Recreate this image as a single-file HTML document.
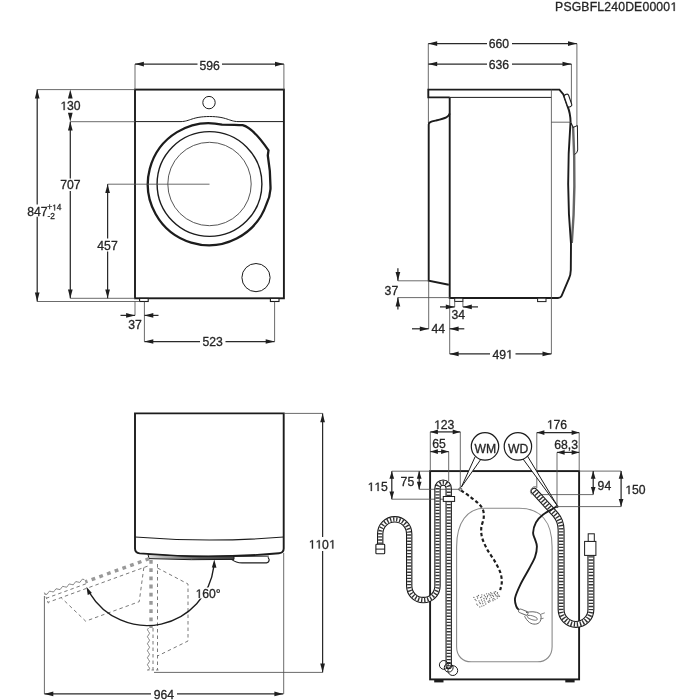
<!DOCTYPE html>
<html><head><meta charset="utf-8"><style>
html,body{margin:0;padding:0;background:#fff;}
body{width:700px;height:700px;overflow:hidden;}
svg{display:block;font-family:"Liberation Sans",sans-serif;}
svg{will-change:transform;}
</style></head><body>
<svg width="700" height="700" viewBox="0 0 700 700">
<rect width="700" height="700" fill="#fff"/>
<text x="555.10" y="10.90" font-size="12.2" text-anchor="start" fill="#262626" stroke="#262626" stroke-width="0.3" letter-spacing="0.18">PSGBFL240DE0000&#8199;</text>
<rect x="135" y="89.6" width="148.9" height="208.7" fill="none" stroke="#1c1c1c" stroke-width="1.9"/>
<path d="M135,121.6 L181,121.6 C190,121.4 192,116.6 209.5,116.5 C227,116.6 229,121.4 238,121.6 L283.9,121.6" fill="none" stroke="#1c1c1c" stroke-width="1.0"/>
<circle cx="209" cy="102.6" r="6.2" fill="none" stroke="#1c1c1c" stroke-width="1.0"/>
<path d="M242.6,125.2 C250,127 258,135 268.5,150.4 L267.8,155.5 C269.5,165 270.6,178 270.5,189 C270,196 268.5,200 266.5,204 A61,61 0 1,1 222,124.6 C230,124.7 237,124.8 242.6,125.2 Z" fill="none" stroke="#1c1c1c" stroke-width="2.3"/>
<circle cx="209.5" cy="184" r="52.4" fill="none" stroke="#1c1c1c" stroke-width="1.4"/>
<circle cx="209.5" cy="184" r="41.7" fill="none" stroke="#444" stroke-width="0.9"/>
<circle cx="256" cy="277.6" r="14.1" fill="none" stroke="#1c1c1c" stroke-width="1.0"/>
<rect x="139.6" y="298.4" width="8.6" height="3.1" fill="#fff" stroke="#1c1c1c" stroke-width="1.1"/>
<rect x="270.4" y="298.4" width="8.6" height="3.1" fill="#fff" stroke="#1c1c1c" stroke-width="1.1"/>
<line x1="135.00" y1="64.10" x2="135.00" y2="89.60" stroke="#505050" stroke-width="0.85" />
<line x1="283.90" y1="64.10" x2="283.90" y2="89.60" stroke="#505050" stroke-width="0.85" />
<line x1="135.00" y1="64.10" x2="197.50" y2="64.10" stroke="#2a2a2a" stroke-width="1.25" />
<line x1="222.00" y1="64.10" x2="283.90" y2="64.10" stroke="#2a2a2a" stroke-width="1.25" />
<path d="M135.00,64.10L143.90,61.75L143.90,66.45Z" fill="#1e1e1e"/>
<path d="M283.90,64.10L275.00,66.45L275.00,61.75Z" fill="#1e1e1e"/>
<text x="209.60" y="69.52" font-size="12.2" text-anchor="middle" fill="#262626" stroke="#262626" stroke-width="0.3">596</text>
<line x1="37.20" y1="89.60" x2="135.00" y2="89.60" stroke="#505050" stroke-width="0.85" />
<line x1="37.20" y1="301.50" x2="140.00" y2="301.50" stroke="#505050" stroke-width="0.85" />
<line x1="70.30" y1="298.30" x2="135.00" y2="298.30" stroke="#505050" stroke-width="0.85" />
<line x1="70.30" y1="121.70" x2="135.00" y2="121.70" stroke="#505050" stroke-width="0.85" />
<line x1="107.60" y1="184.20" x2="209.50" y2="184.20" stroke="#505050" stroke-width="0.85" />
<line x1="37.20" y1="89.60" x2="37.20" y2="204.60" stroke="#2a2a2a" stroke-width="1.25" />
<line x1="37.20" y1="216.80" x2="37.20" y2="301.50" stroke="#2a2a2a" stroke-width="1.25" />
<path d="M37.20,89.60L39.55,98.50L34.85,98.50Z" fill="#1e1e1e"/>
<path d="M37.20,301.50L34.85,292.60L39.55,292.60Z" fill="#1e1e1e"/>
<text x="37.30" y="216.22" font-size="12.2" text-anchor="middle" fill="#262626" stroke="#262626" stroke-width="0.3">847</text>
<text x="47.20" y="210.42" font-size="8.3" text-anchor="start" fill="#262626" stroke="#262626" stroke-width="0.3">+&#8199;4</text>
<text x="47.60" y="218.62" font-size="8.3" text-anchor="start" fill="#262626" stroke="#262626" stroke-width="0.3">-2</text>
<path d="M70.30,89.60L72.65,98.50L67.95,98.50Z" fill="#1e1e1e"/>
<path d="M70.30,121.70L67.95,112.80L72.65,112.80Z" fill="#1e1e1e"/>
<text x="70.40" y="110.12" font-size="12.2" text-anchor="middle" fill="#262626" stroke="#262626" stroke-width="0.3">&#8199;30</text>
<line x1="70.30" y1="121.70" x2="70.30" y2="178.50" stroke="#2a2a2a" stroke-width="1.25" />
<line x1="70.30" y1="191.00" x2="70.30" y2="298.30" stroke="#2a2a2a" stroke-width="1.25" />
<path d="M70.30,121.70L72.65,130.60L67.95,130.60Z" fill="#1e1e1e"/>
<path d="M70.30,298.30L67.95,289.40L72.65,289.40Z" fill="#1e1e1e"/>
<text x="70.30" y="189.32" font-size="12.2" text-anchor="middle" fill="#262626" stroke="#262626" stroke-width="0.3">707</text>
<line x1="107.60" y1="184.20" x2="107.60" y2="238.50" stroke="#2a2a2a" stroke-width="1.25" />
<line x1="107.60" y1="251.50" x2="107.60" y2="298.30" stroke="#2a2a2a" stroke-width="1.25" />
<path d="M107.60,184.20L109.95,193.10L105.25,193.10Z" fill="#1e1e1e"/>
<path d="M107.60,298.30L105.25,289.40L109.95,289.40Z" fill="#1e1e1e"/>
<text x="107.50" y="249.62" font-size="12.2" text-anchor="middle" fill="#262626" stroke="#262626" stroke-width="0.3">457</text>
<line x1="135.00" y1="301.50" x2="135.00" y2="315.40" stroke="#505050" stroke-width="0.85" />
<line x1="144.40" y1="301.60" x2="144.40" y2="341.50" stroke="#505050" stroke-width="0.85" />
<line x1="120.50" y1="315.40" x2="135.00" y2="315.40" stroke="#2a2a2a" stroke-width="1.25" />
<path d="M135.00,315.40L126.10,317.75L126.10,313.05Z" fill="#1e1e1e"/>
<line x1="144.40" y1="315.40" x2="158.50" y2="315.40" stroke="#2a2a2a" stroke-width="1.25" />
<path d="M144.40,315.40L153.30,313.05L153.30,317.75Z" fill="#1e1e1e"/>
<text x="135.00" y="329.22" font-size="12.2" text-anchor="middle" fill="#262626" stroke="#262626" stroke-width="0.3">37</text>
<line x1="274.60" y1="301.60" x2="274.60" y2="341.50" stroke="#505050" stroke-width="0.85" />
<line x1="144.40" y1="341.50" x2="200.00" y2="341.50" stroke="#2a2a2a" stroke-width="1.25" />
<line x1="225.50" y1="341.50" x2="274.60" y2="341.50" stroke="#2a2a2a" stroke-width="1.25" />
<path d="M144.40,341.50L153.30,339.15L153.30,343.85Z" fill="#1e1e1e"/>
<path d="M274.60,341.50L265.70,343.85L265.70,339.15Z" fill="#1e1e1e"/>
<text x="212.70" y="346.12" font-size="12.2" text-anchor="middle" fill="#262626" stroke="#262626" stroke-width="0.3">523</text>
<line x1="428.30" y1="43.60" x2="428.30" y2="89.60" stroke="#505050" stroke-width="0.85" />
<line x1="428.40" y1="97.40" x2="428.40" y2="123.00" stroke="#505050" stroke-width="0.85" />
<line x1="576.90" y1="43.60" x2="576.90" y2="126.00" stroke="#505050" stroke-width="0.85" />
<line x1="571.40" y1="64.00" x2="571.40" y2="104.00" stroke="#505050" stroke-width="0.85" />
<line x1="428.30" y1="43.60" x2="487.00" y2="43.60" stroke="#2a2a2a" stroke-width="1.25" />
<line x1="512.00" y1="43.60" x2="576.90" y2="43.60" stroke="#2a2a2a" stroke-width="1.25" />
<path d="M428.30,43.60L437.20,41.25L437.20,45.95Z" fill="#1e1e1e"/>
<path d="M576.90,43.60L568.00,45.95L568.00,41.25Z" fill="#1e1e1e"/>
<text x="498.90" y="48.22" font-size="12.2" text-anchor="middle" fill="#262626" stroke="#262626" stroke-width="0.3">660</text>
<line x1="428.30" y1="64.00" x2="487.00" y2="64.00" stroke="#2a2a2a" stroke-width="1.25" />
<line x1="512.00" y1="64.00" x2="571.40" y2="64.00" stroke="#2a2a2a" stroke-width="1.25" />
<path d="M428.30,64.00L437.20,61.65L437.20,66.35Z" fill="#1e1e1e"/>
<path d="M571.40,64.00L562.50,66.35L562.50,61.65Z" fill="#1e1e1e"/>
<text x="498.90" y="68.62" font-size="12.2" text-anchor="middle" fill="#262626" stroke="#262626" stroke-width="0.3">636</text>
<path d="M449.7,97.4 L428.3,97.4 L428.3,89.6 L559.4,89.6 L563.4,94.5 L567.6,106.5 Q570.4,113 570.6,122.3" fill="none" stroke="#1c1c1c" stroke-width="1.9" stroke-linejoin="miter"/>
<line x1="449.70" y1="97.40" x2="551.40" y2="97.40" stroke="#1c1c1c" stroke-width="1.0" />
<rect x="565.7" y="94.1" width="4.6" height="13" rx="1.8" fill="#fff" stroke="#1c1c1c" stroke-width="1.1" transform="rotate(-19 568 100.6)"/>
<path d="M449.7,113.5 C449,117 446,118 436,120.5 C431,121.6 428.7,122 428.7,124.5 L428.7,280.8 L448.8,284.7" fill="none" stroke="#1c1c1c" stroke-width="1.9"/>
<path d="M449.7,97.4 L449.7,298 L558,298 Q560.6,298 561.6,295.8 L568.6,279.5 Q570.8,275 570.8,270 L571,244" fill="none" stroke="#1c1c1c" stroke-width="1.9"/>
<line x1="551.40" y1="89.60" x2="551.40" y2="353.90" stroke="#555" stroke-width="0.85" />
<line x1="551.40" y1="122.20" x2="570.60" y2="122.20" stroke="#444" stroke-width="0.8" />
<path d="M573.1,127 Q576.3,188 571.8,243" fill="none" stroke="#666" stroke-width="2.4"/>
<path d="M570.5,122.4 Q565.6,185 571,244" fill="none" stroke="#1c1c1c" stroke-width="1.9"/>
<path d="M570.8,122.5 L573.2,127.5" fill="none" stroke="#1c1c1c" stroke-width="1.2"/>
<path d="M573,127.4 L577.4,125.6 L577.7,150 Q577.4,153.2 574.5,154.5" fill="none" stroke="#1c1c1c" stroke-width="1.0"/>
<rect x="454.7" y="298.2" width="8.2" height="3.2" fill="#fff" stroke="#1c1c1c" stroke-width="1.0"/>
<rect x="537.6" y="298.2" width="8.4" height="3.4" fill="#fff" stroke="#1c1c1c" stroke-width="1.0"/>
<line x1="397.90" y1="280.80" x2="428.70" y2="280.80" stroke="#505050" stroke-width="0.85" />
<line x1="397.90" y1="297.60" x2="449.70" y2="297.60" stroke="#505050" stroke-width="0.85" />
<line x1="397.90" y1="268.30" x2="397.90" y2="280.80" stroke="#2a2a2a" stroke-width="1.25" />
<path d="M397.90,280.80L395.55,271.90L400.25,271.90Z" fill="#1e1e1e"/>
<line x1="397.90" y1="309.50" x2="397.90" y2="297.60" stroke="#2a2a2a" stroke-width="1.25" />
<path d="M397.90,297.60L400.25,306.50L395.55,306.50Z" fill="#1e1e1e"/>
<text x="391.40" y="295.22" font-size="12.2" text-anchor="middle" fill="#262626" stroke="#262626" stroke-width="0.3">37</text>
<line x1="428.70" y1="281.00" x2="428.70" y2="328.80" stroke="#505050" stroke-width="0.85" />
<line x1="449.70" y1="298.00" x2="449.70" y2="353.90" stroke="#505050" stroke-width="0.85" />
<line x1="412.00" y1="328.80" x2="428.70" y2="328.80" stroke="#2a2a2a" stroke-width="1.25" />
<path d="M428.70,328.80L419.80,331.15L419.80,326.45Z" fill="#1e1e1e"/>
<line x1="464.30" y1="328.80" x2="449.70" y2="328.80" stroke="#2a2a2a" stroke-width="1.25" />
<path d="M449.70,328.80L458.60,326.45L458.60,331.15Z" fill="#1e1e1e"/>
<text x="438.30" y="333.22" font-size="12.2" text-anchor="middle" fill="#262626" stroke="#262626" stroke-width="0.3">44</text>
<line x1="454.70" y1="301.50" x2="454.70" y2="306.90" stroke="#505050" stroke-width="0.85" />
<line x1="462.90" y1="301.50" x2="462.90" y2="306.90" stroke="#505050" stroke-width="0.85" />
<line x1="440.00" y1="306.90" x2="454.70" y2="306.90" stroke="#2a2a2a" stroke-width="1.25" />
<path d="M454.70,306.90L445.80,309.25L445.80,304.55Z" fill="#1e1e1e"/>
<line x1="478.00" y1="306.90" x2="462.90" y2="306.90" stroke="#2a2a2a" stroke-width="1.25" />
<path d="M462.90,306.90L471.80,304.55L471.80,309.25Z" fill="#1e1e1e"/>
<text x="458.30" y="319.12" font-size="12.2" text-anchor="middle" fill="#262626" stroke="#262626" stroke-width="0.3">34</text>
<line x1="449.70" y1="353.90" x2="490.00" y2="353.90" stroke="#2a2a2a" stroke-width="1.25" />
<line x1="515.50" y1="353.90" x2="551.40" y2="353.90" stroke="#2a2a2a" stroke-width="1.25" />
<path d="M449.70,353.90L458.60,351.55L458.60,356.25Z" fill="#1e1e1e"/>
<path d="M551.40,353.90L542.50,356.25L542.50,351.55Z" fill="#1e1e1e"/>
<text x="502.60" y="358.52" font-size="12.2" text-anchor="middle" fill="#262626" stroke="#262626" stroke-width="0.3">49&#8199;</text>
<path d="M135,413.4 L283.7,413.4 L283.7,548.5 Q283.7,552.8 279,553.2 Q209.4,559.6 139.7,553.4 Q135,552.8 135,548.5 Z" fill="none" stroke="#1c1c1c" stroke-width="1.9"/>
<path d="M135,537 A920,920 0 0,0 283.7,537" fill="none" stroke="#1c1c1c" stroke-width="1.1"/>
<defs><linearGradient id="dg" x1="148" y1="0" x2="234" y2="0" gradientUnits="userSpaceOnUse"><stop offset="0" stop-color="#e0e0e0"/><stop offset="0.3" stop-color="#9a9a9a"/><stop offset="0.6" stop-color="#555"/><stop offset="1" stop-color="#444"/></linearGradient></defs>
<path d="M148,554.4 Q191,557.9 234,556.1 L234,559.4 Q191,560.4 149,558.6 Z" fill="url(#dg)" stroke="#1c1c1c" stroke-width="1.0"/>
<path d="M231.5,559.4 Q236,562.9 242,562.9 L266.5,562.9 Q269.2,562.6 269.2,559.6 L268,557.2" fill="none" stroke="#1c1c1c" stroke-width="1.1"/>
<path d="M233,556.4 L268.8,556.2" fill="none" stroke="#1c1c1c" stroke-width="0.9"/>
<path d="M151.00,560.00 L151.00,628.00" stroke="#999" stroke-width="3.4" stroke-dasharray="3.8 4.4" fill="none"/>
<path d="M157.50,564.00 L157.50,670.00" stroke="#7a7a7a" stroke-width="1.0" stroke-dasharray="3.5 3" fill="none"/>
<path d="M153.00,628.00 L153.00,670.00" stroke="#7a7a7a" stroke-width="1.0" stroke-dasharray="3.5 3" fill="none"/>
<path d="M157.50,568.00 L188.00,584.00 L188.00,641.00 L157.50,656.00" stroke="#7a7a7a" stroke-width="1.0" stroke-dasharray="3.5 3" fill="none"/>
<path d="M148.50,628.00 Q146.30,629.75 148.50,631.50 Q150.70,633.25 148.50,635.00 Q146.30,636.75 148.50,638.50 Q150.70,640.25 148.50,642.00 Q146.30,643.75 148.50,645.50 Q150.70,647.25 148.50,649.00 Q146.30,650.75 148.50,652.50 Q150.70,654.25 148.50,656.00 Q146.30,657.75 148.50,659.50 Q150.70,661.25 148.50,663.00 Q146.30,664.75 148.50,666.50 Q150.70,668.25 148.50,670.00" stroke="#777" stroke-width="0.9" fill="none"/>
<path d="M147.00,670.00 L159.00,670.00" stroke="#777" stroke-width="0.9" stroke-dasharray="2.5 2" fill="none"/>
<path d="M149.12,558.68 L85.22,581.94" stroke="#999" stroke-width="3.4" stroke-dasharray="3.8 4.4" fill="none"/>
<path d="M147.58,566.16 L47.98,602.41" stroke="#7a7a7a" stroke-width="1.0" stroke-dasharray="3.5 3" fill="none"/>
<path d="M85.91,583.82 L46.44,598.19" stroke="#7a7a7a" stroke-width="1.0" stroke-dasharray="3.5 3" fill="none"/>
<path d="M143.83,567.53 L139.22,601.66 L85.66,621.16 L61.13,597.63" stroke="#7a7a7a" stroke-width="1.0" stroke-dasharray="3.5 3" fill="none"/>
<path d="M84.37,579.59 Q81.97,578.12 81.08,580.79 Q80.19,583.46 77.79,581.99 Q75.39,580.52 74.50,583.18 Q73.61,585.85 71.21,584.38 Q68.81,582.91 67.92,585.58 Q67.03,588.24 64.63,586.77 Q62.24,585.31 61.34,587.97 Q60.45,590.64 58.06,589.17 Q55.66,587.70 54.77,590.37 Q53.87,593.03 51.48,591.56 Q49.08,590.09 48.19,592.76 Q47.30,595.43 44.90,593.96" stroke="#777" stroke-width="0.9" fill="none"/>
<path d="M44.39,592.55 L48.49,603.82" stroke="#777" stroke-width="0.9" stroke-dasharray="2.5 2" fill="none"/>
<path d="M213.80,566.61 A67.1,67.1 0 0,1 89.73,593.04" fill="none" stroke="#1c1c1c" stroke-width="1.35"/>
<path d="M214.29,559.60L216.45,567.64L211.85,567.56Z" fill="#1c1c1c"/>
<path d="M86.43,586.84L91.90,593.11L87.73,595.06Z" fill="#1c1c1c"/>
<rect x="195" y="587.5" width="27" height="11" fill="#fff"/>
<text x="208.00" y="597.92" font-size="12.2" text-anchor="middle" fill="#262626" stroke="#262626" stroke-width="0.3">&#8199;60°</text>
<line x1="283.70" y1="413.40" x2="322.60" y2="413.40" stroke="#505050" stroke-width="0.85" />
<line x1="154.00" y1="672.40" x2="322.60" y2="672.40" stroke="#505050" stroke-width="0.85" />
<line x1="322.60" y1="413.40" x2="322.60" y2="537.00" stroke="#2a2a2a" stroke-width="1.25" />
<line x1="322.60" y1="551.00" x2="322.60" y2="672.40" stroke="#2a2a2a" stroke-width="1.25" />
<path d="M322.60,413.40L324.95,422.30L320.25,422.30Z" fill="#1e1e1e"/>
<path d="M322.60,672.40L320.25,663.50L324.95,663.50Z" fill="#1e1e1e"/>
<text x="322.10" y="548.52" font-size="12.2" text-anchor="middle" fill="#262626" stroke="#262626" stroke-width="0.3">&#8199;&#8199;0&#8199;</text>
<line x1="44.40" y1="596.00" x2="44.40" y2="693.90" stroke="#505050" stroke-width="0.85" />
<line x1="283.70" y1="553.00" x2="283.70" y2="693.90" stroke="#505050" stroke-width="0.85" />
<line x1="44.40" y1="693.90" x2="151.00" y2="693.90" stroke="#2a2a2a" stroke-width="1.25" />
<line x1="177.00" y1="693.90" x2="283.30" y2="693.90" stroke="#2a2a2a" stroke-width="1.25" />
<path d="M44.40,693.90L53.30,691.55L53.30,696.25Z" fill="#1e1e1e"/>
<path d="M283.30,693.90L274.40,696.25L274.40,691.55Z" fill="#1e1e1e"/>
<text x="163.90" y="698.52" font-size="12.2" text-anchor="middle" fill="#262626" stroke="#262626" stroke-width="0.3">964</text>
<rect x="430.1" y="471.1" width="149" height="208.3" fill="none" stroke="#1c1c1c" stroke-width="1.9"/>
<rect x="434.2" y="679.6" width="9.3" height="2.8" fill="#1c1c1c"/>
<rect x="565.3" y="679.6" width="9.3" height="2.8" fill="#1c1c1c"/>
<path d="M484.6,508.3 L519.1,508.3 C541,508.3 552.1,522 552.1,547 L552.1,646.8 C552.1,656 546,661.8 537.5,661.8 L471.2,661.8 C462.5,661.8 456.6,656 456.6,646.8 L456.6,547 C456.6,522 467.5,508.3 484.6,508.3 Z" fill="none" stroke="#8a8a8a" stroke-width="1.1"/>
<line x1="430.30" y1="431.90" x2="430.30" y2="471.00" stroke="#505050" stroke-width="0.85" />
<line x1="460.30" y1="431.90" x2="460.30" y2="489.30" stroke="#505050" stroke-width="0.85" />
<line x1="430.30" y1="431.90" x2="460.30" y2="431.90" stroke="#2a2a2a" stroke-width="1.25" />
<path d="M430.30,431.90L437.90,429.55L437.90,434.25Z" fill="#1e1e1e"/>
<path d="M460.30,431.90L452.70,434.25L452.70,429.55Z" fill="#1e1e1e"/>
<text x="444.10" y="428.92" font-size="12.2" text-anchor="middle" fill="#262626" stroke="#262626" stroke-width="0.3">&#8199;23</text>
<line x1="448.70" y1="451.60" x2="448.70" y2="481.00" stroke="#505050" stroke-width="0.85" />
<line x1="430.30" y1="451.60" x2="448.70" y2="451.60" stroke="#2a2a2a" stroke-width="1.25" />
<path d="M430.30,451.60L437.90,449.25L437.90,453.95Z" fill="#1e1e1e"/>
<path d="M448.70,451.60L441.10,453.95L441.10,449.25Z" fill="#1e1e1e"/>
<text x="439.10" y="448.12" font-size="12.2" text-anchor="middle" fill="#262626" stroke="#262626" stroke-width="0.3">65</text>
<line x1="391.80" y1="471.20" x2="430.10" y2="471.20" stroke="#505050" stroke-width="0.85" />
<line x1="419.20" y1="489.30" x2="460.30" y2="489.30" stroke="#505050" stroke-width="0.85" />
<line x1="391.80" y1="499.20" x2="444.00" y2="499.20" stroke="#505050" stroke-width="0.85" />
<line x1="419.20" y1="471.20" x2="419.20" y2="489.30" stroke="#2a2a2a" stroke-width="1.25" />
<path d="M419.20,471.20L421.55,478.80L416.85,478.80Z" fill="#1e1e1e"/>
<path d="M419.20,489.30L416.85,481.70L421.55,481.70Z" fill="#1e1e1e"/>
<text x="407.40" y="486.22" font-size="12.2" text-anchor="middle" fill="#262626" stroke="#262626" stroke-width="0.3">75</text>
<line x1="391.80" y1="471.20" x2="391.80" y2="499.20" stroke="#2a2a2a" stroke-width="1.25" />
<path d="M391.80,471.20L394.15,478.80L389.45,478.80Z" fill="#1e1e1e"/>
<path d="M391.80,499.20L389.45,491.60L394.15,491.60Z" fill="#1e1e1e"/>
<text x="377.60" y="491.02" font-size="12.2" text-anchor="middle" fill="#262626" stroke="#262626" stroke-width="0.3">&#8199;&#8199;5</text>
<line x1="536.80" y1="432.60" x2="536.80" y2="488.00" stroke="#505050" stroke-width="0.85" />
<line x1="579.20" y1="432.60" x2="579.20" y2="471.00" stroke="#505050" stroke-width="0.85" />
<line x1="536.80" y1="432.60" x2="579.20" y2="432.60" stroke="#2a2a2a" stroke-width="1.25" />
<path d="M536.80,432.60L544.40,430.25L544.40,434.95Z" fill="#1e1e1e"/>
<path d="M579.20,432.60L571.60,434.95L571.60,430.25Z" fill="#1e1e1e"/>
<text x="556.90" y="428.72" font-size="12.2" text-anchor="middle" fill="#262626" stroke="#262626" stroke-width="0.3">&#8199;76</text>
<line x1="557.00" y1="452.40" x2="557.00" y2="506.40" stroke="#505050" stroke-width="0.85" />
<line x1="557.00" y1="452.40" x2="579.20" y2="452.40" stroke="#2a2a2a" stroke-width="1.25" />
<path d="M557.00,452.40L564.60,450.05L564.60,454.75Z" fill="#1e1e1e"/>
<path d="M579.20,452.40L571.60,454.75L571.60,450.05Z" fill="#1e1e1e"/>
<text x="566.10" y="449.22" font-size="12.2" text-anchor="middle" fill="#262626" stroke="#262626" stroke-width="0.3">68,3</text>
<line x1="579.20" y1="471.10" x2="621.10" y2="471.10" stroke="#505050" stroke-width="0.85" />
<line x1="541.00" y1="494.60" x2="593.20" y2="494.60" stroke="#505050" stroke-width="0.85" />
<line x1="557.00" y1="506.60" x2="621.10" y2="506.60" stroke="#505050" stroke-width="0.85" />
<line x1="593.20" y1="471.10" x2="593.20" y2="494.60" stroke="#2a2a2a" stroke-width="1.25" />
<path d="M593.20,471.10L595.55,478.70L590.85,478.70Z" fill="#1e1e1e"/>
<path d="M593.20,494.60L590.85,487.00L595.55,487.00Z" fill="#1e1e1e"/>
<text x="604.40" y="490.22" font-size="12.2" text-anchor="middle" fill="#262626" stroke="#262626" stroke-width="0.3">94</text>
<line x1="621.10" y1="471.10" x2="621.10" y2="506.60" stroke="#2a2a2a" stroke-width="1.25" />
<path d="M621.10,471.10L623.45,478.70L618.75,478.70Z" fill="#1e1e1e"/>
<path d="M621.10,506.60L618.75,499.00L623.45,499.00Z" fill="#1e1e1e"/>
<text x="635.30" y="494.12" font-size="12.2" text-anchor="middle" fill="#262626" stroke="#262626" stroke-width="0.3">&#8199;50</text>
<path d="M380.2,543.8 L380.2,533.8 A14.5,14.5 0 0,1 409.2,533.8 L409.2,585.9 A14.15,14.15 0 0,0 437.5,585.9 L437.5,488.2 A5.6,5.6 0 0,1 448.7,488.2 L448.7,666" fill="none" stroke="#1c1c1c" stroke-width="6.4" stroke-linecap="round"/>
<path d="M380.2,543.8 L380.2,533.8 A14.5,14.5 0 0,1 409.2,533.8 L409.2,585.9 A14.15,14.15 0 0,0 437.5,585.9 L437.5,488.2 A5.6,5.6 0 0,1 448.7,488.2 L448.7,666" fill="none" stroke="#fff" stroke-width="4.2" stroke-linecap="round"/>
<path d="M380.2,543.8 L380.2,533.8 A14.5,14.5 0 0,1 409.2,533.8 L409.2,585.9 A14.15,14.15 0 0,0 437.5,585.9 L437.5,488.2 A5.6,5.6 0 0,1 448.7,488.2 L448.7,666" fill="none" stroke="#333" stroke-width="4.2" stroke-dasharray="1.35 1.75"/>
<rect x="443.3" y="496.5" width="11.3" height="4.9" fill="#fff" stroke="#1c1c1c" stroke-width="1.0"/>
<rect x="375.9" y="544.2" width="8.8" height="9.5" rx="0.8" fill="#fff" stroke="#1c1c1c" stroke-width="1.1"/>
<line x1="375.90" y1="549.10" x2="384.70" y2="549.10" stroke="#1c1c1c" stroke-width="1.0" />
<circle cx="443.8" cy="664.9" r="4.4" fill="none" stroke="#1c1c1c" stroke-width="1.0"/>
<circle cx="448.7" cy="667.7" r="4.4" fill="none" stroke="#1c1c1c" stroke-width="1.0"/>
<circle cx="452.8" cy="670.6" r="4.9" fill="none" stroke="#1c1c1c" stroke-width="1.0"/>
<path d="M534.2,491.2 L555.5,514.5 Q561.1,521 561.1,530 L561.1,609.5 A14.9,14.9 0 0,0 590.9,609.5 L590.9,555.4" fill="none" stroke="#1c1c1c" stroke-width="7.0" stroke-linecap="round"/>
<path d="M534.2,491.2 L555.5,514.5 Q561.1,521 561.1,530 L561.1,609.5 A14.9,14.9 0 0,0 590.9,609.5 L590.9,555.4" fill="none" stroke="#fff" stroke-width="4.8" stroke-linecap="round"/>
<path d="M534.2,491.2 L555.5,514.5 Q561.1,521 561.1,530 L561.1,609.5 A14.9,14.9 0 0,0 590.9,609.5 L590.9,555.4" fill="none" stroke="#333" stroke-width="4.8" stroke-dasharray="1.35 1.75"/>
<path d="M531.5,494.5 A5,5 0 0,1 536.5,486.6" fill="none" stroke="#777" stroke-width="0.9"/>
<rect x="584.6" y="541.4" width="11.3" height="14" fill="#fff" stroke="#1c1c1c" stroke-width="1.0"/>
<rect x="588.2" y="533.8" width="6.1" height="7.6" fill="#fff" stroke="#1c1c1c" stroke-width="1.0"/>
<path d="M461.00,490.40 C462.47,491.42 466.97,494.38 469.80,496.50 C472.63,498.62 475.82,500.92 478.00,503.10 C480.18,505.28 481.95,507.13 482.90,509.60 C483.85,512.07 483.97,514.88 483.70,517.90 C483.43,520.92 481.57,524.42 481.30,527.70 C481.03,530.98 481.15,534.03 482.10,537.60 C483.05,541.17 484.95,545.27 487.00,549.10 C489.05,552.93 492.20,556.77 494.40,560.60 C496.60,564.43 498.97,568.55 500.20,572.10 C501.43,575.65 501.80,578.90 501.80,581.90 C501.80,584.90 500.47,588.73 500.20,590.10" fill="none" stroke="#1c1c1c" stroke-width="2.15" stroke-dasharray="3.5 2.4"/>
<g fill="#6a6a6a"><circle cx="473.87" cy="597.40" r="0.65"/><circle cx="475.09" cy="599.47" r="0.65"/><circle cx="476.06" cy="600.59" r="0.65"/><circle cx="476.73" cy="604.09" r="0.65"/><circle cx="477.63" cy="605.10" r="0.65"/><circle cx="479.79" cy="606.97" r="0.65"/><circle cx="477.13" cy="596.47" r="0.65"/><circle cx="477.56" cy="598.00" r="0.65"/><circle cx="478.99" cy="600.88" r="0.65"/><circle cx="479.70" cy="602.67" r="0.65"/><circle cx="480.39" cy="603.56" r="0.65"/><circle cx="481.81" cy="606.11" r="0.65"/><circle cx="478.48" cy="595.48" r="0.65"/><circle cx="480.51" cy="597.62" r="0.65"/><circle cx="481.48" cy="599.98" r="0.65"/><circle cx="482.41" cy="601.81" r="0.65"/><circle cx="482.80" cy="603.65" r="0.65"/><circle cx="483.88" cy="605.58" r="0.65"/><circle cx="481.82" cy="594.80" r="0.65"/><circle cx="481.69" cy="596.90" r="0.65"/><circle cx="483.90" cy="598.45" r="0.65"/><circle cx="484.22" cy="600.13" r="0.65"/><circle cx="484.99" cy="601.97" r="0.65"/><circle cx="485.78" cy="604.00" r="0.65"/><circle cx="484.32" cy="595.23" r="0.65"/><circle cx="485.32" cy="596.76" r="0.65"/><circle cx="486.45" cy="598.28" r="0.65"/><circle cx="486.53" cy="599.01" r="0.65"/><circle cx="488.13" cy="601.32" r="0.65"/><circle cx="488.79" cy="602.38" r="0.65"/><circle cx="486.53" cy="593.82" r="0.65"/><circle cx="487.72" cy="595.57" r="0.65"/><circle cx="487.45" cy="596.73" r="0.65"/><circle cx="489.61" cy="598.82" r="0.65"/><circle cx="489.26" cy="600.55" r="0.65"/><circle cx="490.14" cy="601.10" r="0.65"/><circle cx="488.67" cy="593.92" r="0.65"/><circle cx="489.88" cy="594.32" r="0.65"/><circle cx="490.29" cy="595.75" r="0.65"/><circle cx="491.38" cy="597.28" r="0.65"/><circle cx="492.74" cy="599.09" r="0.65"/><circle cx="493.02" cy="600.68" r="0.65"/><circle cx="490.74" cy="592.68" r="0.65"/><circle cx="491.89" cy="593.74" r="0.65"/><circle cx="492.27" cy="595.47" r="0.65"/><circle cx="493.47" cy="596.24" r="0.65"/><circle cx="493.82" cy="598.44" r="0.65"/><circle cx="495.00" cy="599.56" r="0.65"/><circle cx="494.20" cy="592.13" r="0.65"/><circle cx="494.35" cy="593.50" r="0.65"/><circle cx="495.37" cy="594.56" r="0.65"/><circle cx="495.98" cy="595.71" r="0.65"/><circle cx="497.16" cy="596.46" r="0.65"/><circle cx="497.29" cy="598.05" r="0.65"/><circle cx="495.63" cy="591.72" r="0.65"/><circle cx="497.50" cy="592.54" r="0.65"/><circle cx="497.31" cy="593.35" r="0.65"/><circle cx="498.09" cy="594.79" r="0.65"/><circle cx="498.25" cy="596.06" r="0.65"/><circle cx="499.50" cy="596.24" r="0.65"/></g>
<path d="M557.40,506.10 C554.98,507.53 546.47,511.98 542.90,514.70 C539.33,517.42 537.63,519.40 536.00,522.40 C534.37,525.40 533.25,529.83 533.10,532.70 C532.95,535.57 534.47,537.32 535.10,539.60 C535.73,541.88 536.90,543.55 536.90,546.40 C536.90,549.25 536.40,552.98 535.10,556.70 C533.80,560.42 531.52,564.13 529.10,568.70 C526.68,573.27 522.93,579.23 520.60,584.10 C518.27,588.97 515.82,594.18 515.10,597.90 C514.38,601.62 515.67,604.40 516.30,606.40 C516.93,608.40 518.47,609.32 518.90,609.90" fill="none" stroke="#1c1c1c" stroke-width="1.9"/>
<rect x="518.3" y="610.2" width="10" height="3.8" rx="1.9" fill="#fff" stroke="#666" stroke-width="0.9" transform="rotate(22 523.3 612.1)"/>
<path d="M526,612.6 C530,611.3 536,611.4 539.5,613.5 C541.6,615 541.6,619 540,621.6 C538.3,624.6 533,625 529.5,622.5 C527,620.6 525.6,618.2 524.6,616.2" fill="none" stroke="#666" stroke-width="1.0"/>
<ellipse cx="532.4" cy="617.8" rx="5.2" ry="1.9" transform="rotate(16 532.4 617.8)" fill="none" stroke="#777" stroke-width="0.9"/>
<path d="M540.4,614.4 L544.8,612.8 M540.4,618.9 L543.6,618.2" fill="none" stroke="#777" stroke-width="0.9"/>
<path d="M475.0,457.0 L461.4,487.0 L480.8,459.4" fill="#fff" stroke="#1c1c1c" stroke-width="1.0" stroke-linejoin="miter"/>
<circle cx="485.0" cy="446.4" r="13.7" fill="#fff" stroke="#1c1c1c" stroke-width="1.2"/>
<text x="485.30" y="452.52" font-size="12.2" text-anchor="middle" fill="#262626" stroke="#262626" stroke-width="0.3">WM</text>
<path d="M522.9,458.8 L557.4,505.8 L527.3,455.8" fill="#fff" stroke="#1c1c1c" stroke-width="1.0" stroke-linejoin="miter"/>
<circle cx="517.9" cy="446.4" r="13.7" fill="#fff" stroke="#1c1c1c" stroke-width="1.2"/>
<text x="518.20" y="452.52" font-size="12.2" text-anchor="middle" fill="#262626" stroke="#262626" stroke-width="0.3">WD</text>
<circle cx="460.3" cy="489.3" r="1.6" fill="none" stroke="#444" stroke-width="0.8"/>
<circle cx="557" cy="506.4" r="1.5" fill="#444"/>
<path d="M565,0L746,0L746,1409L580,1409L247,1180L247,1010L565,1237Z" transform="translate(670.26,10.90) scale(0.005957,-0.005957)" fill="#262626" stroke="#262626" stroke-width="50.4"/>
<path d="M565,0L746,0L746,1409L580,1409L247,1180L247,1010L565,1237Z" transform="translate(52.04,210.42) scale(0.004053,-0.004053)" fill="#262626" stroke="#262626" stroke-width="74.0"/>
<path d="M565,0L746,0L746,1409L580,1409L247,1180L247,1010L565,1237Z" transform="translate(60.23,110.12) scale(0.005957,-0.005957)" fill="#262626" stroke="#262626" stroke-width="50.4"/>
<path d="M565,0L746,0L746,1409L580,1409L247,1180L247,1010L565,1237Z" transform="translate(505.98,358.52) scale(0.005957,-0.005957)" fill="#262626" stroke="#262626" stroke-width="50.4"/>
<path d="M565,0L746,0L746,1409L580,1409L247,1180L247,1010L565,1237Z" transform="translate(195.39,597.92) scale(0.005957,-0.005957)" fill="#262626" stroke="#262626" stroke-width="50.4"/>
<path d="M565,0L746,0L746,1409L580,1409L247,1180L247,1010L565,1237Z" transform="translate(308.54,548.52) scale(0.005957,-0.005957)" fill="#262626" stroke="#262626" stroke-width="50.4"/>
<path d="M565,0L746,0L746,1409L580,1409L247,1180L247,1010L565,1237Z" transform="translate(315.30,548.52) scale(0.005957,-0.005957)" fill="#262626" stroke="#262626" stroke-width="50.4"/>
<path d="M565,0L746,0L746,1409L580,1409L247,1180L247,1010L565,1237Z" transform="translate(328.87,548.52) scale(0.005957,-0.005957)" fill="#262626" stroke="#262626" stroke-width="50.4"/>
<path d="M565,0L746,0L746,1409L580,1409L247,1180L247,1010L565,1237Z" transform="translate(433.93,428.92) scale(0.005957,-0.005957)" fill="#262626" stroke="#262626" stroke-width="50.4"/>
<path d="M565,0L746,0L746,1409L580,1409L247,1180L247,1010L565,1237Z" transform="translate(367.43,491.02) scale(0.005957,-0.005957)" fill="#262626" stroke="#262626" stroke-width="50.4"/>
<path d="M565,0L746,0L746,1409L580,1409L247,1180L247,1010L565,1237Z" transform="translate(374.19,491.02) scale(0.005957,-0.005957)" fill="#262626" stroke="#262626" stroke-width="50.4"/>
<path d="M565,0L746,0L746,1409L580,1409L247,1180L247,1010L565,1237Z" transform="translate(546.73,428.72) scale(0.005957,-0.005957)" fill="#262626" stroke="#262626" stroke-width="50.4"/>
<path d="M565,0L746,0L746,1409L580,1409L247,1180L247,1010L565,1237Z" transform="translate(625.13,494.12) scale(0.005957,-0.005957)" fill="#262626" stroke="#262626" stroke-width="50.4"/>
</svg>
</body></html>
